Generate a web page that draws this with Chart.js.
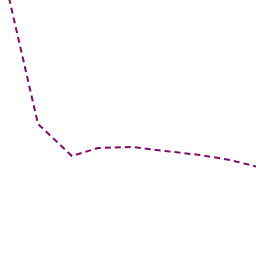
<!DOCTYPE html>
<html>
<head>
<meta charset="utf-8">
<script src="https://cdn.jsdelivr.net/npm/chart.js@4"></script>
<style>
  html, body { margin: 0; padding: 0; background: #fff; }
</style>
</head>
<body>
<canvas id="chart" width="256" height="256"></canvas>
<script>
// Datos
const xValues = [9, 38, 72, 98, 132, 165, 200, 230, 258];
const yValues = [258, 132, 100, 108, 109, 105, 101, 96, 89];

const ctx = document.getElementById("chart").getContext("2d");

const chart = new Chart(ctx, {
  type: "scatter",
  data: {
    datasets: [
      {
        data: xValues.map((x, i) => ({ x: x, y: yValues[i] })),
        showLine: true,
        borderColor: "#800a6e",
        borderWidth: 2,
        borderDash: [6, 4],
        pointRadius: 0,
        tension: 0,
      },
    ],
  },
  options: {
    responsive: false,
    animation: false,
    layout: { padding: 0 },
    plugins: { legend: { display: false }, tooltip: { enabled: false } },
    scales: {
      x: { type: "linear", min: 0, max: 256, display: false },
      y: { type: "linear", min: 0, max: 256, display: false },
    },
  },
});
</script>
</body>
</html>
